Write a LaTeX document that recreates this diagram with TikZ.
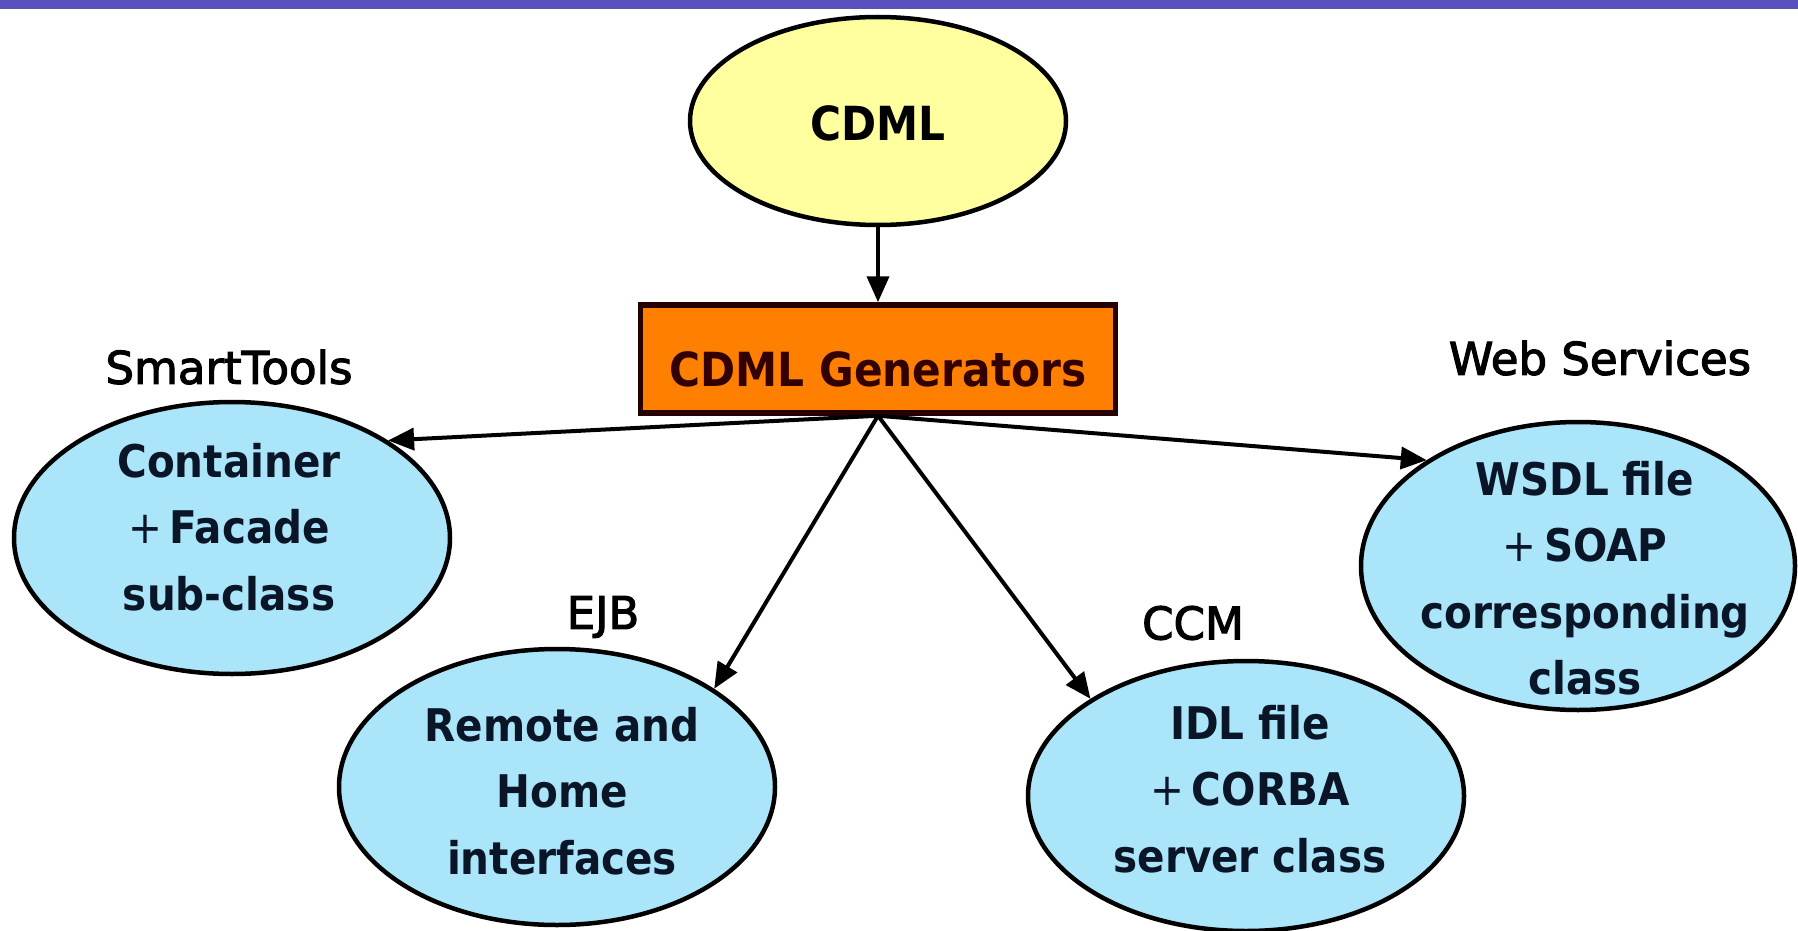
\documentclass[tikz,border=0pt]{standalone}
\usepackage{fontspec}
\setmainfont{DejaVu Sans}
\newfontfamily\condfont{DejaVu Sans Condensed}
\newfontfamily\labelfont{DejaVu Sans}[FakeBold=2.5]
\usetikzlibrary{shapes.geometric,arrows.meta}
\definecolor{barblue}{RGB}{90,80,190}
\definecolor{cdmlyellow}{RGB}{255,255,160}
\definecolor{genorange}{RGB}{255,128,0}
\definecolor{targetblue}{RGB}{170,229,249}
\definecolor{inktext}{RGB}{10,22,40}
\tikzset{
  source/.style={ellipse, draw=black, line width=4.5pt, fill=cdmlyellow, inner sep=0pt,
    minimum width=376pt, minimum height=208pt},
  genbox/.style={rectangle, draw=black!85!red, line width=5.5pt, fill=genorange, inner sep=0pt,
    minimum width=475pt, minimum height=108pt},
  target/.style={ellipse, draw=black, line width=4.5pt, fill=targetblue, inner sep=0pt},
  bodytext/.style={align=center, text=inktext, inner sep=0pt,
    font=\condfont\bfseries\fontsize{45}{66.5}\selectfont},
  tech/.style={inner sep=0pt, font=\labelfont\fontsize{45}{50}\selectfont},
  flow/.style={line width=4pt, -{Triangle[length=26pt,width=22pt]}}
}
\newcommand{\plusmark}{{\mdseries +}\,}
\begin{document}
\begin{tikzpicture}[x=1pt,y=-1pt]
\useasboundingbox (0,0) rectangle (1798,931);
\fill[white] (0,0) rectangle (1798,931);
\fill[barblue] (0,0) rectangle (1798,9);

% source model and generator
\node[source] (cdml) at (878,121) {};
\node[bodytext, font=\condfont\bfseries\fontsize{47}{50}\selectfont, text=black] (cdmltext) at (878,123) {CDML};
\node[genbox] (gen) at (878,359) {};
\node[bodytext, font=\condfont\bfseries\fontsize{47}{50}\selectfont, text=black!80!red] (gentext) at (878,369) {CDML Generators};

% generated targets
\node[target, minimum width=436pt, minimum height=272pt] (st) at (232,538) {};
\node[target, minimum width=436pt, minimum height=276pt] (ejb) at (557,787) {};
\node[target, minimum width=436pt, minimum height=270pt] (ccm) at (1246,796) {};
\node[target, minimum width=434pt, minimum height=288pt] (ws) at (1578,566) {};

\node[bodytext] (sttext) at (229,527) {Container\\\plusmark Facade\\sub-class};
\node[bodytext] (ejbtext) at (562,791) {Remote and\\Home\\interfaces};
\node[bodytext] (ccmtext) at (1250,789) {IDL file\\\plusmark CORBA\\server class};
\node[bodytext] (wstext) at (1585,578) {WSDL file\\\plusmark SOAP\\corresponding\\class};

% technology labels
\node[tech] (stlabel) at (229,367) {SmartTools};
\node[tech] (ejblabel) at (603,617) {EJB};
\node[tech] (ccmlabel) at (1193,623) {CCM};
\node[tech] (wslabel) at (1600,358) {Web Services};

% connectors
\draw[flow] (cdml.south) -- (gen.north);
\draw[flow] (gen.south) -- (st.32);
\draw[flow] (gen.south) -- (ejb.32);
\draw[flow] (gen.south) -- (ccm.148);
\draw[flow] (gen.south) -- (ws.145);
\end{tikzpicture}
\end{document}
